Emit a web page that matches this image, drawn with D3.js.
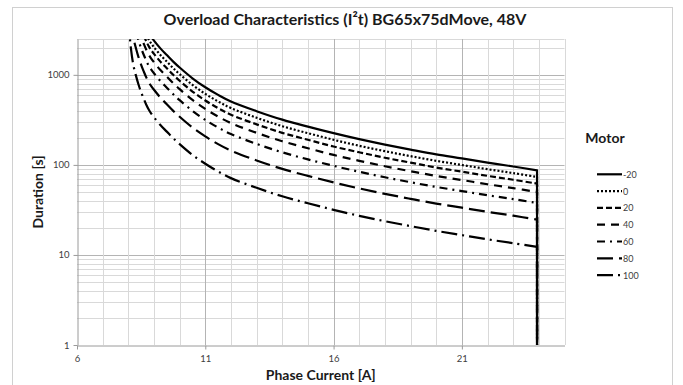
<!DOCTYPE html>
<html>
<head>
<meta charset="utf-8">
<script src="https://cdn.jsdelivr.net/npm/d3@7"></script>
<style>
  body { margin: 0; background: #fff; }
  svg { display: block; font-family: Lato, "Open Sans", sans-serif; }
</style>
</head>
<body>
<svg id="chart" width="683" height="385"></svg>
<script>
// Phase current [A] sample points shared by all series (last entry repeats the cut-off current)
const current = [7.95, 8.0, 8.1, 8.2, 8.3, 8.4, 8.5, 8.6, 8.7, 8.8, 8.9, 9.0, 9.25, 9.5, 9.75, 10, 10.5, 11, 11.5, 12, 13, 14, 15, 16, 17, 18, 19, 20, 21, 22, 23, 23.93, 23.93];

// Permissible overload duration [s] per motor temperature (null = above the chart range)
const durM20 = [null, null, null, null, null, null, null, null, null, 2900, 2620, 2400, 1967, 1660, 1403, 1205, 916, 728, 599, 506, 395, 318, 266, 225, 193, 168, 148, 131, 118, 106, 96, 87, 0.5];
const dur0   = [null, null, null, null, null, null, null, null, 2790, 2450, 2214, 2028, 1662, 1403, 1186, 1018, 774, 615, 506, 428, 334, 269, 225, 190, 163, 142, 125, 111, 99.7, 89.6, 81.1, 73.5, 0.5];
const dur20  = [null, null, null, null, null, null, null, 2745, 2353, 2068, 1868, 1711, 1402, 1184, 1000, 859, 653, 519, 427, 361, 282, 227, 190, 160, 138, 120, 106, 93.4, 84.1, 75.6, 68.4, 62.0, 0.5];
const dur40  = [null, null, null, null, null, 3163, 2616, 2214, 1898, 1668, 1507, 1380, 1131, 955, 807, 693, 527, 419, 344, 291, 227, 183, 153, 129, 111, 96.6, 85.1, 75.3, 67.9, 61.0, 55.2, 50.0, 0.5];
const dur60  = [null, null, null, null, 2995, 2387, 1975, 1671, 1432, 1259, 1137, 1042, 854, 720, 609, 523, 398, 316, 260, 220, 171, 138, 115, 97.7, 83.8, 72.9, 64.2, 56.9, 51.2, 46.0, 41.7, 37.8, 0.5];
const dur80  = [null, null, 3976, 2556, 1960, 1562, 1292, 1093, 937, 824, 744, 682, 559, 471, 398, 342, 260, 207, 170, 144, 112, 90.3, 75.5, 63.9, 54.8, 47.7, 42.0, 37.2, 33.5, 30.1, 27.3, 24.7, 0.5];
const dur100 = [null, 4230, 1974, 1269, 973, 776, 642, 543, 465, 409, 369, 338, 277, 234, 198, 170, 129, 103, 84.5, 71.3, 55.7, 44.8, 37.5, 31.7, 27.2, 23.7, 20.9, 18.5, 16.6, 14.9, 13.5, 12.3, 0.5];

const motorTemps = ["-20", "0", "20", "40", "60", "80", "100"];
const durations = [durM20, dur0, dur20, dur40, dur60, dur80, dur100];
const dashStyles = ["none", "2,2", "6,3", "8,6", "8,5,2,5", "16,6", "16,5,2,5"];

const xTicks = [6, 11, 16, 21];
const yTicks = [1, 10, 100, 1000];
const xDomain = [6, 25];
const yDomain = [1, 2500];

const svg = d3.select("#chart");
const plot = { left: 77, right: 564.5, top: 39, bottom: 345 };

// chart area frame
svg.append("rect")
  .attr("x", 12.5).attr("y", 7.5).attr("width", 660).attr("height", 400)
  .attr("fill", "#fff").attr("stroke", "#d0d0d0").attr("stroke-width", 1);

const x = d3.scaleLinear().domain(xDomain).range([plot.left, plot.right]);
const y = d3.scaleLog().domain(yDomain).range([plot.bottom, plot.top]);

// gridlines
const grid = svg.append("g");
const minorY = [];
for (let dec = 1; dec <= 1000; dec *= 10) {
  for (let m = 2; m <= 9; m++) if (dec * m <= yDomain[1]) minorY.push(dec * m);
}
grid.selectAll("line.ymin").data(minorY).join("line")
  .attr("x1", plot.left).attr("x2", plot.right)
  .attr("y1", d => Math.round(y(d)) + 0.5).attr("y2", d => Math.round(y(d)) + 0.5)
  .attr("stroke", "#d9d9d9");
grid.selectAll("line.ymaj").data(yTicks.slice(1).concat([yDomain[1]])).join("line")
  .attr("x1", plot.left).attr("x2", plot.right)
  .attr("y1", d => Math.round(y(d)) + 0.5).attr("y2", d => Math.round(y(d)) + 0.5)
  .attr("stroke", d => yTicks.includes(d) ? "#b4b4b4" : "#d9d9d9");
const xGrid = d3.range(xDomain[0] + 1, xDomain[1] + 1, 1);
grid.selectAll("line.xg").data(xGrid).join("line")
  .attr("x1", d => Math.round(x(d)) + 0.5).attr("x2", d => Math.round(x(d)) + 0.5)
  .attr("y1", plot.top).attr("y2", plot.bottom)
  .attr("stroke", d => xTicks.includes(d) ? "#b4b4b4" : "#d9d9d9");

// axes
const xAxis = svg.append("g")
  .attr("transform", `translate(0,${plot.bottom + 0.5})`)
  .call(d3.axisBottom(x).tickValues(xTicks).tickSize(4).tickSizeOuter(0).tickPadding(6).tickFormat(d3.format("d")));
const yAxis = svg.append("g")
  .attr("transform", `translate(${plot.left + 0.5},0)`)
  .call(d3.axisLeft(y).tickValues(yTicks).tickSize(4).tickSizeOuter(0).tickPadding(4).tickFormat(d3.format("d")));
[xAxis, yAxis].forEach(a => {
  a.select(".domain").attr("stroke", "#9a9a9a");
  a.selectAll(".tick line").attr("stroke", "#9a9a9a");
  a.selectAll(".tick text").attr("fill", "#404040").style("font-family", "Lato, sans-serif").style("font-size", "9.5px");
});

// curves: smooth spline through the samples, then the straight drop at the cut-off current
svg.append("clipPath").attr("id", "plotClip").append("rect")
  .attr("x", plot.left).attr("y", plot.top)
  .attr("width", plot.right - plot.left).attr("height", plot.bottom - plot.top);

const smooth = d3.line()
  .x(d => x(d[0]))
  .y(d => y(d[1]))
  .curve(d3.curveCatmullRom.alpha(0.5));

const curves = svg.append("g").attr("clip-path", "url(#plotClip)");
durations.forEach((vals, i) => {
  const pts = current.map((c, j) => [c, vals[j]]).filter(p => p[1] != null);
  const body = pts.slice(0, -1);
  const drop = pts[pts.length - 1];
  const d = smooth(body) + `L${x(drop[0])},${y(Math.max(drop[1], 0.3))}`;
  curves.append("path")
    .attr("d", d)
    .attr("fill", "none")
    .attr("stroke", "#000")
    .attr("stroke-width", 2.2)
    .attr("stroke-linejoin", "round")
    .attr("stroke-dasharray", dashStyles[i]);
});

// titles
svg.append("text")
  .attr("x", 345).attr("y", 25).attr("text-anchor", "middle")
  .style("font-weight", "bold").style("font-size", "16px").attr("fill", "#1a1a1a")
  .text("Overload Characteristics (I²t) BG65x75dMove, 48V");
svg.append("text")
  .attr("x", (plot.left + plot.right) / 2).attr("y", 380).attr("text-anchor", "middle")
  .style("font-weight", "bold").style("font-size", "14px").attr("fill", "#1a1a1a")
  .text("Phase Current [A]");
svg.append("text")
  .attr("transform", `translate(43,${(plot.top + plot.bottom) / 2}) rotate(-90)`)
  .attr("text-anchor", "middle")
  .style("font-weight", "bold").style("font-size", "14px").attr("fill", "#1a1a1a")
  .text("Duration [s]");

// legend
const legend = svg.append("g");
legend.append("text")
  .attr("x", 605).attr("y", 143).attr("text-anchor", "middle")
  .style("font-weight", "bold").style("font-size", "14px").attr("fill", "#1a1a1a")
  .text("Motor");
const rows = legend.selectAll("g.row").data(motorTemps).join("g")
  .attr("transform", (d, i) => `translate(597,${174.3 + i * 16.8})`);
rows.append("line")
  .attr("x1", 0).attr("x2", 25).attr("y1", 0).attr("y2", 0)
  .attr("stroke", "#000").attr("stroke-width", 2.2)
  .attr("stroke-dasharray", (d, i) => dashStyles[i]);
rows.append("text")
  .attr("x", 26).attr("y", 3.5)
  .style("font-size", "9px").attr("fill", "#404040")
  .text(d => d);
</script>
</body>
</html>
